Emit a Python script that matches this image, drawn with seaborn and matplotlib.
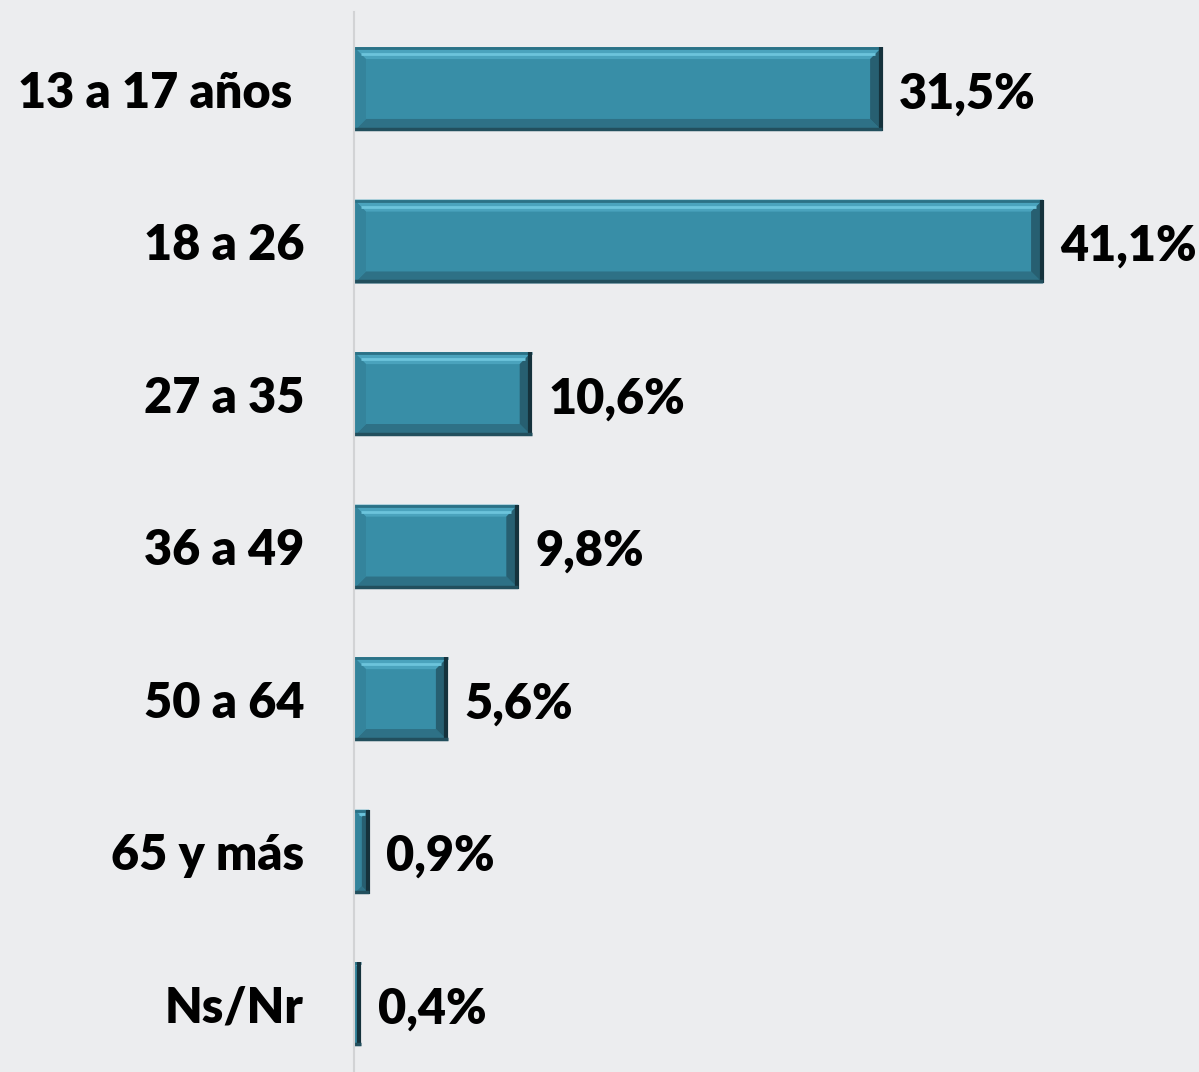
import matplotlib
matplotlib.use("Agg")
import matplotlib.pyplot as plt
from matplotlib.patches import Polygon
from matplotlib.transforms import IdentityTransform
import seaborn as sns
import pandas as pd

categories = ["13 a 17 años ", "18 a 26", "27 a 35", "36 a 49", "50 a 64", "65 y más", "Ns/Nr"]
values = [31.5, 41.1, 10.6, 9.8, 5.6, 0.9, 0.4]
value_labels = ["31,5%", "41,1%", "10,6%", "9,8%", "5,6%", "0,9%", "0,4%"]

df = pd.DataFrame({"grupo": categories, "pct": values})

bg = "#ECEDEF"
bar_color = "#388EA7"

sns.set_style("white")
plt.rcParams["font.family"] = ["Lato", "DejaVu Sans"]

fig = plt.figure(figsize=(11.99, 10.72), dpi=100, facecolor=bg)
ax = fig.add_axes([354 / 1199, 0, 1 - 354 / 1199, 1 - 12 / 1072])
ax.set_facecolor(bg)

sns.barplot(data=df, x="pct", y="grupo", orient="h", color=bar_color,
            width=0.55, saturation=1, ax=ax, edgecolor="none")

ax.set_xlim(0, 50.4)
ax.set_ylim(6.445, -0.505)
ax.set_xlabel("")
ax.set_ylabel("")
ax.set_xticks([])
for s in ["top", "right", "bottom"]:
    ax.spines[s].set_visible(False)
ax.spines["left"].set_color("#D2D3D5")
ax.spines["left"].set_linewidth(1.5)
ax.tick_params(axis="y", length=0, pad=36)
for t in ax.get_yticklabels():
    t.set_fontsize(35)
    t.set_fontweight("heavy")
    t.set_color("black")

# bevel effect on each bar, computed from the bar geometry in pixels
fig.canvas.draw()
ident = IdentityTransform()
for p in ax.patches:
    x0, y0 = ax.transData.transform((p.get_x(), p.get_y()))
    x1, y1 = ax.transData.transform((p.get_x() + p.get_width(), p.get_y() + p.get_height()))
    left, right = min(x0, x1), max(x0, x1)
    bottom, top = min(y0, y1), max(y0, y1)
    b = min(12, (right - left) / 2)
    sides = [
        ([(left, top), (right, top), (right - b, top - b), (left + b, top - b)], "#4AA3BD"),
        ([(left, bottom), (right, bottom), (right - b, bottom + b), (left + b, bottom + b)], "#2E7186"),
        ([(right, top), (right, bottom), (right - b, bottom + b), (right - b, top - b)], "#275F71"),
        ([(left, top), (left, bottom), (left + b, bottom + b), (left + b, top - b)], "#34849C"),
    ]
    for pts, c in sides:
        ax.add_patch(Polygon(pts, closed=True, facecolor=c, edgecolor="none",
                             transform=ident, clip_on=False))
    # highlight / shadow lines
    ax.plot([left + b * 0.6, right - b * 0.6], [top - b * 0.6, top - b * 0.6],
            color="#6CC4DC", lw=2, transform=ident, solid_capstyle="butt")
    ax.plot([left, right], [top - 1, top - 1], color="#2B7186", lw=2,
            transform=ident, solid_capstyle="butt")
    ax.plot([right - 1.5, right - 1.5], [bottom, top], color="#15323C", lw=3,
            transform=ident, solid_capstyle="butt")
    ax.plot([left, right], [bottom + 2, bottom + 2], color="#224F5D", lw=2.5,
            transform=ident, solid_capstyle="butt")

for i, (v, lab) in enumerate(zip(values, value_labels)):
    ax.annotate(lab, xy=(v, i), xytext=(17, -5), textcoords="offset pixels",
                ha="left", va="center", fontsize=35, fontweight="heavy", color="black")

fig.savefig("out.png", dpi=100, facecolor=bg)
